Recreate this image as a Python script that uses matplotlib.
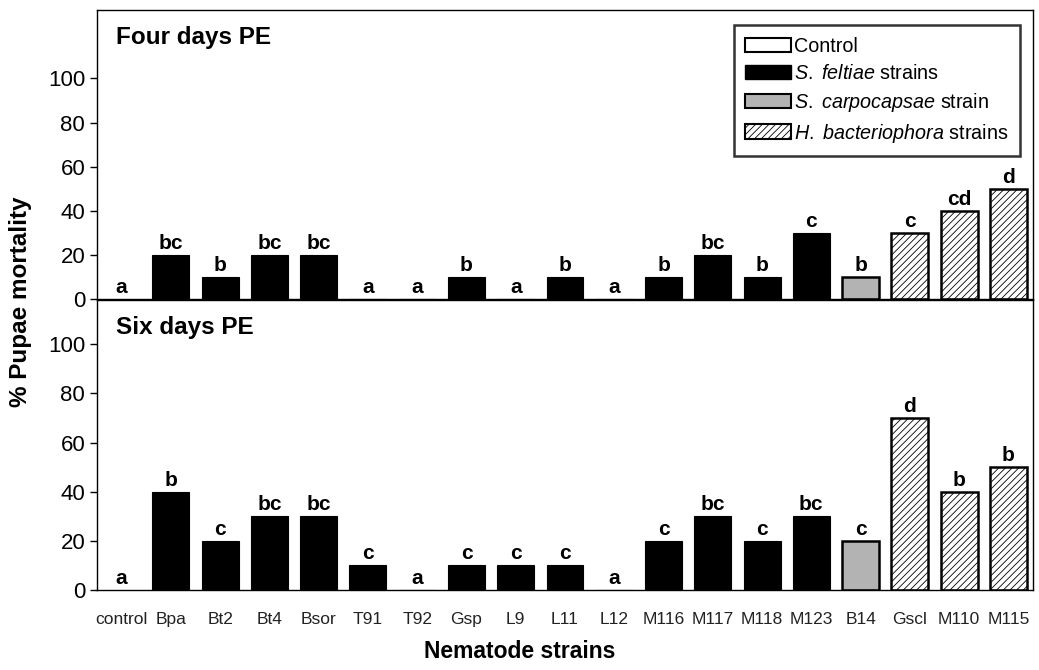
import matplotlib.pyplot as plt
from matplotlib.patches import Patch

plt.rcParams['font.family'] = ['Liberation Sans', 'DejaVu Sans']
plt.rcParams['mathtext.fontset'] = 'custom'
plt.rcParams['mathtext.rm'] = 'Liberation Sans'
plt.rcParams['mathtext.it'] = 'Liberation Sans:italic'
plt.rcParams['hatch.linewidth'] = 0.6

strains = ["control", "Bpa", "Bt2", "Bt4", "Bsor", "T91", "T92", "Gsp", "L9",
           "L11", "L12", "M116", "M117", "M118", "M123", "B14", "Gscl", "M110", "M115"]
groups = ["ctrl", "sf", "sf", "sf", "sf", "sf", "sf", "sf", "sf",
          "sf", "sf", "sf", "sf", "sf", "sf", "sc", "hb", "hb", "hb"]

four_days = [0, 20, 10, 20, 20, 0, 0, 10, 0, 10, 0, 10, 20, 10, 30, 10, 30, 40, 50]
four_letters = ["a", "bc", "b", "bc", "bc", "a", "a", "b", "a", "b", "a",
                "b", "bc", "b", "c", "b", "c", "cd", "d"]

six_days = [0, 40, 20, 30, 30, 10, 0, 10, 10, 10, 0, 20, 30, 20, 30, 20, 70, 40, 50]
six_letters = ["a", "b", "c", "bc", "bc", "c", "a", "c", "c", "c", "a",
               "c", "bc", "c", "bc", "c", "d", "b", "b"]

styles = {
    "ctrl": dict(color="white", edgecolor="white", hatch=None),
    "sf": dict(color="black", edgecolor="black", hatch=None),
    "sc": dict(color="#b3b3b3", edgecolor="black", hatch=None),
    "hb": dict(color="white", edgecolor="black", hatch="/////"),
}

fig = plt.figure(figsize=(10.39, 6.70), dpi=100)
ax1 = fig.add_axes([0.0934, 0.5537, 0.9008, 0.4313])
ax2 = fig.add_axes([0.0934, 0.1194, 0.9008, 0.4328])

x = list(range(len(strains)))


def draw(ax, values, letters, title, ymax):
    for i, (v, g) in enumerate(zip(values, groups)):
        st = styles[g]
        ax.bar(i, v, width=0.75, color=st["color"], edgecolor=st["edgecolor"],
               hatch=st["hatch"], linewidth=1.8 if g in ("sc", "hb") else 0.8,
               zorder=2)
        ax.text(i, v + 0.8, letters[i], ha="center", va="bottom",
                fontsize=15, fontweight="bold")
    ax.set_xlim(-0.5, len(strains) - 0.5)
    ax.set_ylim(0, ymax)
    ax.set_yticks([0, 20, 40, 60, 80, 100])
    ax.tick_params(axis="y", labelsize=16, length=5, width=1, direction="out")
    ax.text(0.02, 0.945, title, transform=ax.transAxes, fontsize=17.5,
            fontweight="bold", va="top", ha="left")
    for s in ax.spines.values():
        s.set_linewidth(1)


draw(ax1, four_days, four_letters, "Four days PE", 131)
draw(ax2, six_days, six_letters, "Six days PE", 118)

ax1.set_xticks([])
ax2.set_xticks(x)
ax2.set_xticklabels(strains, fontsize=12.5, color="#222222")
ax2.tick_params(axis="x", length=0, pad=16)

fig.text(0.02, 0.55, "% Pupae mortality", rotation=90, fontsize=17.5,
         fontweight="bold", ha="center", va="center")
fig.text(0.5, 0.028, "Nematode strains", fontsize=16.5, fontweight="bold",
         ha="center", va="center")

handles = [
    Patch(facecolor="white", edgecolor="black", linewidth=1.5, label="Control"),
    Patch(facecolor="black", edgecolor="black", label="$\\it{S.\\ feltiae}$ strains"),
    Patch(facecolor="#b3b3b3", edgecolor="black", linewidth=1.5,
          label="$\\it{S.\\ carpocapsae}$ strain"),
    Patch(facecolor="white", edgecolor="black", hatch="/////", linewidth=1.5,
          label="$\\it{H.\\ bacteriophora}$ strains"),
]
leg = ax1.legend(handles=handles, loc="upper right", bbox_to_anchor=(0.986, 0.948),
                 fontsize=14.2, frameon=True, fancybox=False, edgecolor="black",
                 handlelength=2.3, handleheight=0.75, handletextpad=0.15,
                 labelspacing=0.4, borderpad=0.6, borderaxespad=0)
leg.get_frame().set_linewidth(1.8)

fig.savefig("out.png", dpi=100)
